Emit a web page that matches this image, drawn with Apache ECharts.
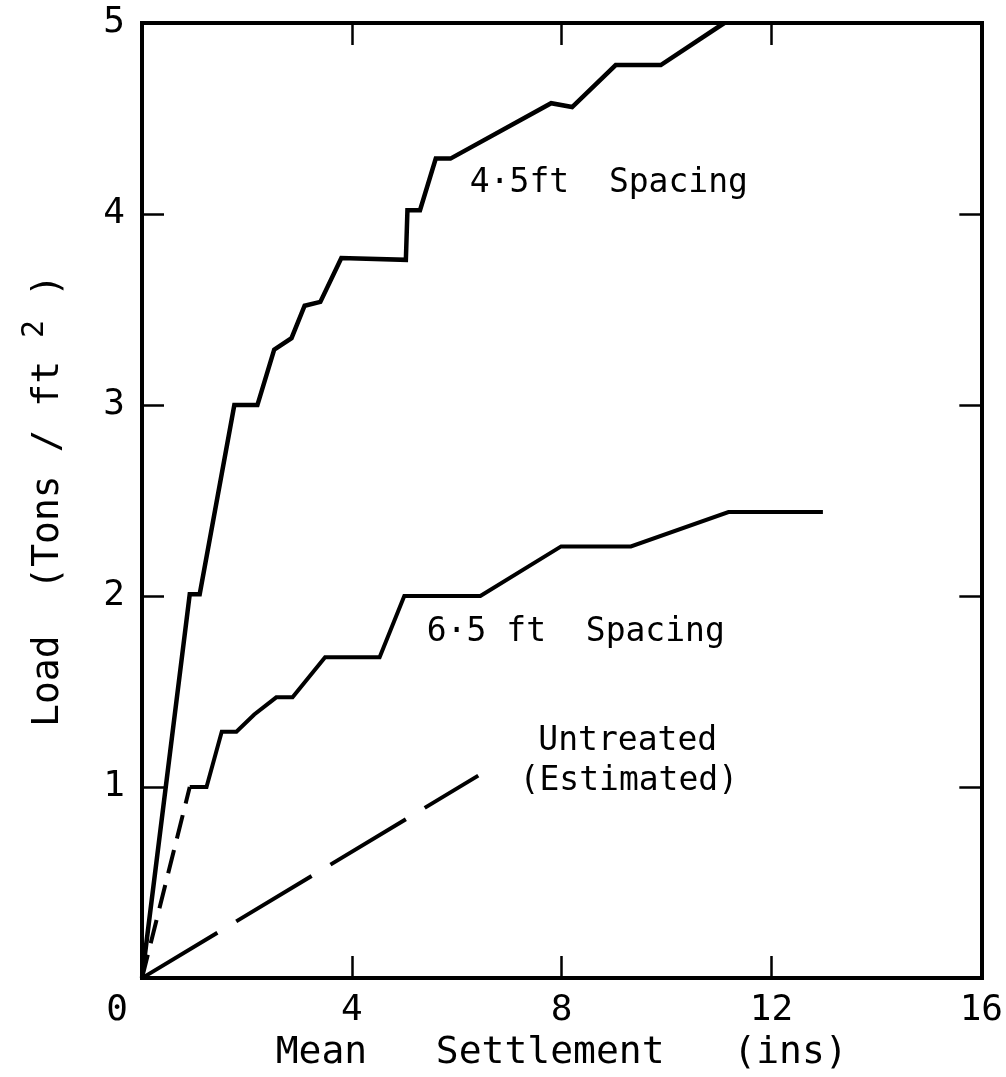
<!DOCTYPE html>
<html><head><meta charset="utf-8">
<script src="https://cdn.jsdelivr.net/npm/echarts@6/dist/echarts.min.js"></script>
<style>html,body{margin:0;padding:0;background:#fff}#c{width:1006px;height:1077px}</style>
</head><body><div id="c"></div>
<script>
// Tick settings
const xTickValues = [0, 4, 8, 12, 16];
const yTickValues = [0, 1, 2, 3, 4, 5];

// 4.5 ft spacing (solid)
const sp45X = [0, 0.91, 1.10, 1.76, 2.20, 2.52, 2.85, 3.10, 3.40, 3.80, 5.03, 5.06, 5.30, 5.60, 5.88, 7.80, 8.20, 9.03, 9.89, 11.10];
const sp45Y = [0, 2.01, 2.01, 3.00, 3.00, 3.29, 3.35, 3.52, 3.54, 3.77, 3.76, 4.02, 4.02, 4.29, 4.29, 4.58, 4.56, 4.78, 4.78, 5.00];

// 6.5 ft spacing: dashed start + solid remainder
const sp65DashX = [0, 0.91];
const sp65DashY = [0, 1.00];
const sp65X = [0.91, 1.23, 1.52, 1.80, 2.14, 2.56, 2.87, 3.49, 4.53, 5.00, 6.45, 7.99, 9.32, 11.18, 12.98];
const sp65Y = [1.00, 1.00, 1.29, 1.29, 1.38, 1.47, 1.47, 1.68, 1.68, 2.00, 2.00, 2.26, 2.26, 2.44, 2.44];

// Untreated (estimated), dashed
const untrX = [0, 6.41];
const untrY = [0, 1.06];

// Annotations
const annText = ['4\u00b75ft  Spacing', '6\u00b75 ft  Spacing', 'Untreated', '(Estimated)'];
const annX = [8.9, 8.27, 9.26, 9.28];
const annY = [4.16, 1.81, 1.24, 1.03];

const zip = (xs, ys) => xs.map((x, i) => [x, ys[i]]);
const FONT = 'DejaVu Sans Mono';

const chart = echarts.init(document.getElementById('c'));
const axisLine = { show: true, onZero: false, lineStyle: { color: '#000', width: 4, cap: 'square' } };
const axisTick = { show: true, inside: true, length: 22, lineStyle: { color: '#000', width: 2.5 } };

chart.setOption({
  backgroundColor: '#fff',
  animation: false,
  grid: { left: 142, right: 21, top: 23, bottom: 94, containLabel: false },
  xAxis: [
    {
      type: 'value', min: xTickValues[0], max: xTickValues[xTickValues.length - 1], interval: 4,
      position: 'bottom',
      axisLine, axisTick, splitLine: { show: false },
      axisLabel: {
        color: '#000', fontFamily: FONT, fontSize: 36, margin: 15,
        formatter: v => v === 0 ? '{z|0}' : String(v),
        rich: { z: { color: '#000', fontFamily: FONT, fontSize: 36, padding: [0, 50, 0, 0] } }
      },
      name: 'Mean   Settlement   (ins)', nameLocation: 'middle', nameGap: 46,
      nameTextStyle: { color: '#000', fontFamily: FONT, fontSize: 38 }
    },
    {
      type: 'value', min: 0, max: 16, interval: 4, position: 'top',
      axisLine, axisTick, splitLine: { show: false }, axisLabel: { show: false }
    }
  ],
  yAxis: [
    {
      type: 'value', min: yTickValues[0], max: yTickValues[yTickValues.length - 1], interval: 1,
      position: 'left',
      axisLine, axisTick, splitLine: { show: false },
      axisLabel: {
        color: '#000', fontFamily: FONT, fontSize: 36, margin: 17,
        formatter: v => v === 0 ? '' : String(v)
      },
      name: '{a|Load  (Tons / ft }{s|2}{a| )}', nameLocation: 'middle', nameGap: 78, nameRotate: 90,
      nameTextStyle: {
        color: '#000', fontFamily: FONT, fontSize: 38,
        rich: {
          a: { color: '#000', fontFamily: FONT, fontSize: 38, lineHeight: 44, padding: [12, 0, 0, 0] },
          s: { color: '#000', fontFamily: FONT, fontSize: 30, lineHeight: 32, verticalAlign: 'top' }
        }
      }
    },
    {
      type: 'value', min: 0, max: 5, interval: 1, position: 'right',
      axisLine, axisTick, splitLine: { show: false }, axisLabel: { show: false }
    }
  ],
  series: [
    {
      type: 'line', data: zip(sp45X, sp45Y), showSymbol: false, silent: true,
      lineStyle: { color: '#000', width: 4.5, join: 'miter' }
    },
    {
      type: 'line', data: zip(sp65DashX, sp65DashY), showSymbol: false, silent: true,
      lineStyle: { color: '#000', width: 4, type: [24, 12] }
    },
    {
      type: 'line', data: zip(sp65X, sp65Y), showSymbol: false, silent: true,
      lineStyle: { color: '#000', width: 4, join: 'miter' }
    },
    {
      type: 'line', data: zip(untrX, untrY), showSymbol: false, silent: true,
      lineStyle: { color: '#000', width: 4, type: [88, 22] }
    },
    {
      type: 'scatter', symbolSize: 0, silent: true,
      itemStyle: { opacity: 1, color: '#000' },
      data: annX.map((x, i) => [x, annY[i], annText[i]]),
      label: {
        show: true, position: 'inside', color: '#000', opacity: 1, fontFamily: FONT, fontSize: 33,
        textBorderWidth: 0,
        formatter: p => p.value[2]
      }
    }
  ]
});
</script>
</body></html>
